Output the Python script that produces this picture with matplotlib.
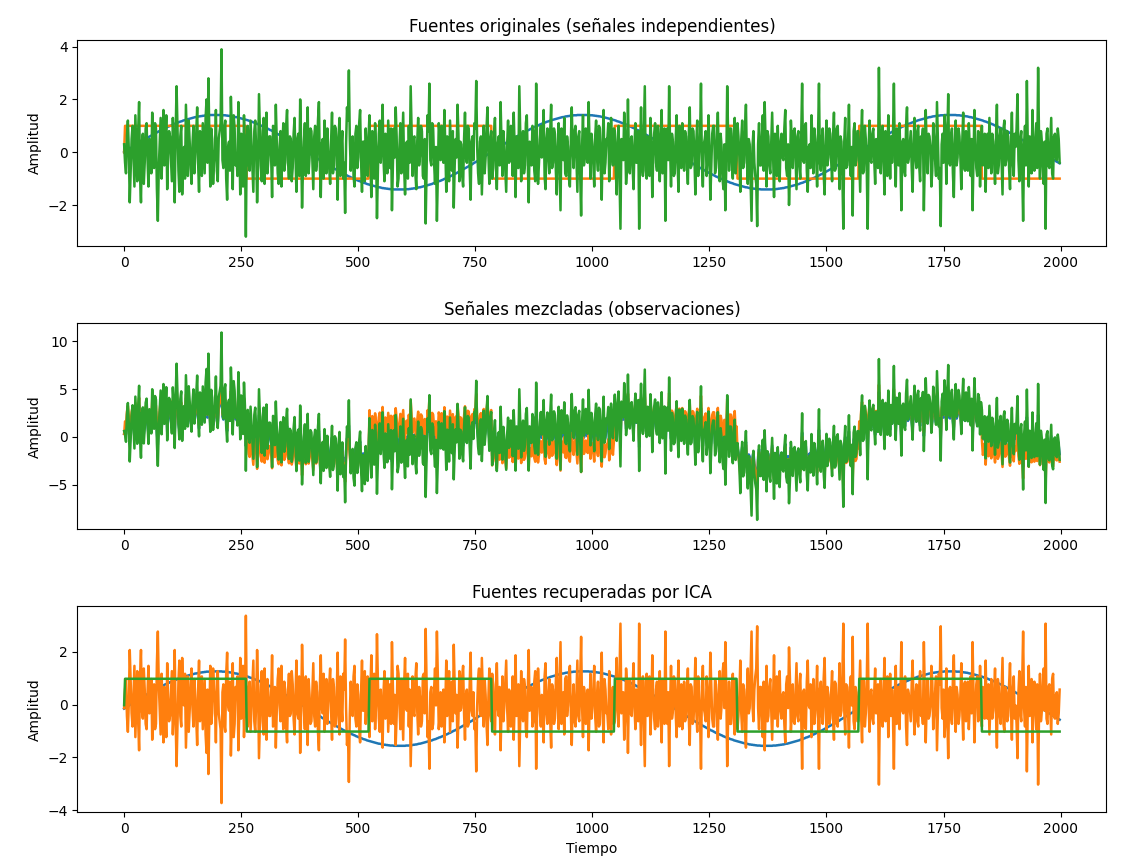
import matplotlib.pyplot as plt
import numpy as np

# una de cada 2 muestras (0 .. 1998)
tiempo = np.arange(0, 2000, 2)

# fuente 1: senoidal normalizada
seno = [
    # semiciclo positivo
    0.00, 0.02, 0.05, 0.07, 0.09, 0.11, 0.14, 0.16, 0.18, 0.20, 0.23, 0.25, 0.27, 0.29, 0.31, 0.34, 0.36, 0.38, 0.40, 0.42,
    0.45, 0.47, 0.49, 0.51, 0.53, 0.55, 0.57, 0.59, 0.61, 0.63, 0.65, 0.67, 0.69, 0.71, 0.73, 0.75, 0.77, 0.79, 0.81, 0.83,
    0.84, 0.86, 0.88, 0.90, 0.92, 0.93, 0.95, 0.97, 0.98, 1.00, 1.01, 1.03, 1.05, 1.06, 1.08, 1.09, 1.10, 1.12, 1.13, 1.15,
    1.16, 1.17, 1.18, 1.20, 1.21, 1.22, 1.23, 1.24, 1.25, 1.26, 1.27, 1.28, 1.29, 1.30, 1.31, 1.32, 1.33, 1.33, 1.34, 1.35,
    1.36, 1.36, 1.37, 1.37, 1.38, 1.38, 1.39, 1.39, 1.40, 1.40, 1.40, 1.40, 1.41, 1.41, 1.41, 1.41, 1.41, 1.41, 1.41,
    1.41, 1.41, 1.41, 1.41, 1.41, 1.41, 1.40, 1.40, 1.40, 1.40, 1.39, 1.39, 1.38, 1.38, 1.37, 1.37, 1.36, 1.36,
    1.35, 1.34, 1.33, 1.33, 1.32, 1.31, 1.30, 1.29, 1.28, 1.27, 1.26, 1.25, 1.24, 1.23, 1.22, 1.21, 1.20, 1.18, 1.17, 1.16,
    1.15, 1.13, 1.12, 1.10, 1.09, 1.08, 1.06, 1.05, 1.03, 1.01, 1.00, 0.98, 0.97, 0.95, 0.93, 0.92, 0.90, 0.88, 0.86, 0.84,
    0.83, 0.81, 0.79, 0.77, 0.75, 0.73, 0.71, 0.69, 0.67, 0.65, 0.63, 0.61, 0.59, 0.57, 0.55, 0.53, 0.51, 0.49, 0.47, 0.45,
    0.42, 0.40, 0.38, 0.36, 0.34, 0.31, 0.29, 0.27, 0.25, 0.23, 0.20, 0.18, 0.16, 0.14, 0.11, 0.09, 0.07, 0.05, 0.02, 0.00,
    # semiciclo negativo
    -0.02, -0.05, -0.07, -0.09, -0.11, -0.14, -0.16, -0.18, -0.20, -0.23, -0.25, -0.27, -0.29, -0.31, -0.34, -0.36, -0.38, -0.40, -0.42,
    -0.45, -0.47, -0.49, -0.51, -0.53, -0.55, -0.57, -0.59, -0.61, -0.63, -0.65, -0.67, -0.69, -0.71, -0.73, -0.75, -0.77, -0.79, -0.81, -0.83,
    -0.84, -0.86, -0.88, -0.90, -0.92, -0.93, -0.95, -0.97, -0.98, -1.00, -1.01, -1.03, -1.05, -1.06, -1.08, -1.09, -1.10, -1.12, -1.13, -1.15,
    -1.16, -1.17, -1.18, -1.20, -1.21, -1.22, -1.23, -1.24, -1.25, -1.26, -1.27, -1.28, -1.29, -1.30, -1.31, -1.32, -1.33, -1.33, -1.34, -1.35,
    -1.36, -1.36, -1.37, -1.37, -1.38, -1.38, -1.39, -1.39, -1.40, -1.40, -1.40, -1.40, -1.41, -1.41, -1.41, -1.41, -1.41, -1.41, -1.41,
    -1.41, -1.41, -1.41, -1.41, -1.41, -1.41, -1.40, -1.40, -1.40, -1.40, -1.39, -1.39, -1.38, -1.38, -1.37, -1.37, -1.36, -1.36,
    -1.35, -1.34, -1.33, -1.33, -1.32, -1.31, -1.30, -1.29, -1.28, -1.27, -1.26, -1.25, -1.24, -1.23, -1.22, -1.21, -1.20, -1.18, -1.17, -1.16,
    -1.15, -1.13, -1.12, -1.10, -1.09, -1.08, -1.06, -1.05, -1.03, -1.01, -1.00, -0.98, -0.97, -0.95, -0.93, -0.92, -0.90, -0.88, -0.86, -0.84,
    -0.83, -0.81, -0.79, -0.77, -0.75, -0.73, -0.71, -0.69, -0.67, -0.65, -0.63, -0.61, -0.59, -0.57, -0.55, -0.53, -0.51, -0.49, -0.47, -0.45,
    -0.42, -0.40, -0.38, -0.36, -0.34, -0.31, -0.29, -0.27, -0.25, -0.23, -0.20, -0.18, -0.16, -0.14, -0.11, -0.09, -0.07, -0.05, -0.02, 0.00,
    # semiciclo positivo
    0.02, 0.05, 0.07, 0.09, 0.11, 0.14, 0.16, 0.18, 0.20, 0.23, 0.25, 0.27, 0.29, 0.31, 0.34, 0.36, 0.38, 0.40, 0.42,
    0.45, 0.47, 0.49, 0.51, 0.53, 0.55, 0.57, 0.59, 0.61, 0.63, 0.65, 0.67, 0.69, 0.71, 0.73, 0.75, 0.77, 0.79, 0.81, 0.83,
    0.84, 0.86, 0.88, 0.90, 0.92, 0.93, 0.95, 0.97, 0.98, 1.00, 1.01, 1.03, 1.05, 1.06, 1.08, 1.09, 1.10, 1.12, 1.13, 1.15,
    1.16, 1.17, 1.18, 1.20, 1.21, 1.22, 1.23, 1.24, 1.25, 1.26, 1.27, 1.28, 1.29, 1.30, 1.31, 1.32, 1.33, 1.33, 1.34, 1.35,
    1.36, 1.36, 1.37, 1.37, 1.38, 1.38, 1.39, 1.39, 1.40, 1.40, 1.40, 1.40, 1.41, 1.41, 1.41, 1.41, 1.41, 1.41, 1.41,
    1.41, 1.41, 1.41, 1.41, 1.41, 1.41, 1.40, 1.40, 1.40, 1.40, 1.39, 1.39, 1.38, 1.38, 1.37, 1.37, 1.36, 1.36,
    1.35, 1.34, 1.33, 1.33, 1.32, 1.31, 1.30, 1.29, 1.28, 1.27, 1.26, 1.25, 1.24, 1.23, 1.22, 1.21, 1.20, 1.18, 1.17, 1.16,
    1.15, 1.13, 1.12, 1.10, 1.09, 1.08, 1.06, 1.05, 1.03, 1.01, 1.00, 0.98, 0.97, 0.95, 0.93, 0.92, 0.90, 0.88, 0.86, 0.84,
    0.83, 0.81, 0.79, 0.77, 0.75, 0.73, 0.71, 0.69, 0.67, 0.65, 0.63, 0.61, 0.59, 0.57, 0.55, 0.53, 0.51, 0.49, 0.47, 0.45,
    0.42, 0.40, 0.38, 0.36, 0.34, 0.31, 0.29, 0.27, 0.25, 0.23, 0.20, 0.18, 0.16, 0.14, 0.11, 0.09, 0.07, 0.05, 0.02, 0.00,
    # semiciclo negativo
    -0.02, -0.05, -0.07, -0.09, -0.11, -0.14, -0.16, -0.18, -0.20, -0.23, -0.25, -0.27, -0.29, -0.31, -0.34, -0.36, -0.38, -0.40, -0.42,
    -0.45, -0.47, -0.49, -0.51, -0.53, -0.55, -0.57, -0.59, -0.61, -0.63, -0.65, -0.67, -0.69, -0.71, -0.73, -0.75, -0.77, -0.79, -0.81, -0.83,
    -0.84, -0.86, -0.88, -0.90, -0.92, -0.93, -0.95, -0.97, -0.98, -1.00, -1.01, -1.03, -1.05, -1.06, -1.08, -1.09, -1.10, -1.12, -1.13, -1.15,
    -1.16, -1.17, -1.18, -1.20, -1.21, -1.22, -1.23, -1.24, -1.25, -1.26, -1.27, -1.28, -1.29, -1.30, -1.31, -1.32, -1.33, -1.33, -1.34, -1.35,
    -1.36, -1.36, -1.37, -1.37, -1.38, -1.38, -1.39, -1.39, -1.40, -1.40, -1.40, -1.40, -1.41, -1.41, -1.41, -1.41, -1.41, -1.41, -1.41,
    -1.41, -1.41, -1.41, -1.41, -1.41, -1.41, -1.40, -1.40, -1.40, -1.40, -1.39, -1.39, -1.38, -1.38, -1.37, -1.37, -1.36, -1.36,
    -1.35, -1.34, -1.33, -1.33, -1.32, -1.31, -1.30, -1.29, -1.28, -1.27, -1.26, -1.25, -1.24, -1.23, -1.22, -1.21, -1.20, -1.18, -1.17, -1.16,
    -1.15, -1.13, -1.12, -1.10, -1.09, -1.08, -1.06, -1.05, -1.03, -1.01, -1.00, -0.98, -0.97, -0.95, -0.93, -0.92, -0.90, -0.88, -0.86, -0.84,
    -0.83, -0.81, -0.79, -0.77, -0.75, -0.73, -0.71, -0.69, -0.67, -0.65, -0.63, -0.61, -0.59, -0.57, -0.55, -0.53, -0.51, -0.49, -0.47, -0.45,
    -0.42, -0.40, -0.38, -0.36, -0.34, -0.31, -0.29, -0.27, -0.25, -0.23, -0.20, -0.18, -0.16, -0.14, -0.11, -0.09, -0.07, -0.05, -0.02, 0.00,
    # semiciclo positivo
    0.02, 0.05, 0.07, 0.09, 0.11, 0.14, 0.16, 0.18, 0.20, 0.23, 0.25, 0.27, 0.29, 0.31, 0.34, 0.36, 0.38, 0.40, 0.42,
    0.45, 0.47, 0.49, 0.51, 0.53, 0.55, 0.57, 0.59, 0.61, 0.63, 0.65, 0.67, 0.69, 0.71, 0.73, 0.75, 0.77, 0.79, 0.81, 0.83,
    0.84, 0.86, 0.88, 0.90, 0.92, 0.93, 0.95, 0.97, 0.98, 1.00, 1.01, 1.03, 1.05, 1.06, 1.08, 1.09, 1.10, 1.12, 1.13, 1.15,
    1.16, 1.17, 1.18, 1.20, 1.21, 1.22, 1.23, 1.24, 1.25, 1.26, 1.27, 1.28, 1.29, 1.30, 1.31, 1.32, 1.33, 1.33, 1.34, 1.35,
    1.36, 1.36, 1.37, 1.37, 1.38, 1.38, 1.39, 1.39, 1.40, 1.40, 1.40, 1.40, 1.41, 1.41, 1.41, 1.41, 1.41, 1.41, 1.41,
    1.41, 1.41, 1.41, 1.41, 1.41, 1.41, 1.40, 1.40, 1.40, 1.40, 1.39, 1.39, 1.38, 1.38, 1.37, 1.37, 1.36, 1.36,
    1.35, 1.34, 1.33, 1.33, 1.32, 1.31, 1.30, 1.29, 1.28, 1.27, 1.26, 1.25, 1.24, 1.23, 1.22, 1.21, 1.20, 1.18, 1.17, 1.16,
    1.15, 1.13, 1.12, 1.10, 1.09, 1.08, 1.06, 1.05, 1.03, 1.01, 1.00, 0.98, 0.97, 0.95, 0.93, 0.92, 0.90, 0.88, 0.86, 0.84,
    0.83, 0.81, 0.79, 0.77, 0.75, 0.73, 0.71, 0.69, 0.67, 0.65, 0.63, 0.61, 0.59, 0.57, 0.55, 0.53, 0.51, 0.49, 0.47, 0.45,
    0.42, 0.40, 0.38, 0.36, 0.34, 0.31, 0.29, 0.27, 0.25, 0.23, 0.20, 0.18, 0.16, 0.14, 0.11, 0.09, 0.07, 0.05, 0.02, 0.00,
    # inicio del siguiente semiciclo
    -0.02, -0.05, -0.07, -0.09, -0.11, -0.14, -0.16, -0.18, -0.20, -0.23, -0.25, -0.27, -0.29, -0.31, -0.34, -0.36, -0.38, -0.40, -0.42,
]

# fuente 2: onda cuadrada (nivel y número de muestras de cada tramo)
cuadrada_niveles = [0, 1, -1, 1, -1, 1, -1, 1, -1]
cuadrada_muestras = [1, 130, 131, 131, 131, 131, 130, 131, 84]

# fuente 3: ruido
ruido = [
    0.3, -0.4, -0.8, 0.6, 1.2, 0.1, -1.9, -0.7, 0.5, 1.0, -0.2, -1.3, 1.4, 0.2, -1.1, 0.8, 1.9, -0.9, -1.9, 0.4,
    0.7, -1.2, -0.4, 0.9, 1.1, -0.3, -1.3, 0.5, 0.2, -0.8, 1.5, 0.3, -0.6, 1.1, 0.9, -1.4, -2.6, -0.6, 0.4, 1.3,
    -1.0, 0.2, 1.6, -0.5, 0.1, 1.4, -1.4, -0.1, 0.8, 0.6, -0.3, -1.1, 1.3, 0.4, -1.9, 0.7, 2.5, 0.9, -0.7, -1.5,
    0.6, 1.0, -1.6, -0.2, 0.2, -1.0, 1.8, 0.5, -0.9, 1.2, 0.4, -0.6, -1.2, 0.3, 1.0, -0.8, -0.1, 0.7, 1.7, -0.4,
    -1.5, 0.8, 0.3, -0.9, 1.1, 0.2, -0.8, 1.3, 2.0, -0.4, 2.8, 0.6, -1.3, 0.9, 0.5, -1.2, -0.4, 0.1, 1.6, -0.7,
    -1.1, 0.5, 0.8, 1.1, 3.9, -0.3, -0.6, 0.9, 1.2, -1.0, -1.8, 0.2, 0.4, -0.7, 2.1, 0.8, -1.4, 1.4, 0.9, -0.5,
    -0.2, -0.9, 1.9, 0.4, -1.6, 0.7, 0.6, -1.3, 1.4, 0.2, -3.2, 0.5, 1.0, -0.4, -0.7, 1.2, 0.3, -0.6, -1.5, 0.8,
    1.2, 0.1, -1.9, -0.6, 2.2, 0.9, -0.5, -1.1, 0.8, 1.3, -1.2, 0.3, 1.5, -0.8, -0.3, 0.6, 0.6, -0.2, -1.7, 1.0,
    0.9, -0.5, 1.8, 0.4, -0.8, -1.2, 0.2, 0.8, -1.3, 0.3, 1.1, -0.7, -0.4, 1.0, 1.6, -0.3, -1.0, 0.6, 0.5, -1.1,
    -0.6, 0.7, 1.3, -0.2, -1.5, 0.5, 0.7, -0.9, 2.0, 0.4, -2.1, -0.6, 0.4, 1.1, -0.9, 0.2, 1.7, -0.8, -0.2, 0.9,
    0.8, -0.3, -1.4, 0.6, 1.0, -0.7, -0.3, 1.2, 1.9, -0.5, -1.7, 0.3, 0.5, -1.0, 1.2, 0.4, -0.8, 0.9, 0.1, -0.6,
    -1.2, 0.4, 1.5, -0.8, -0.5, 1.0, 0.9, -0.2, -1.8, 0.6, 1.3, -0.9, 0.2, 0.8, -1.0, -0.4, -2.3, 0.3, 1.7, 1.2,
    3.1, 0.5, -0.7, 0.2, 0.6, -0.9, -1.3, 0.7, 1.0, -0.6, -0.2, 1.1, 1.6, -0.3, -1.5, 0.4, 0.4, -1.1, 0.9, -0.2,
    -0.9, 0.6, 1.4, -0.4, -1.7, 0.8, 0.3, -1.0, 1.1, 0.2, -2.5, -0.7, 0.7, 1.2, -0.4, 0.5, 1.8, -0.3, -1.1, 0.7,
    0.5, -0.8, 1.2, 0.3, -0.6, 0.9, -2.2, -0.5, 0.9, -0.2, 1.7, 0.6, -1.3, -1.0, 0.2, 1.1, -0.8, 0.4, 1.5, -0.6,
    -1.6, 0.3, 0.4, -1.0, 1.0, -0.4, 2.5, 0.7, -0.9, 0.5, 0.6, -0.8, -1.4, 0.4, 1.3, -0.5, -0.1, 1.0, 0.8, -0.9,
    -1.0, 0.5, -2.7, -0.6, 1.4, 0.8, 2.6, -0.3, -0.5, 1.1, 0.9, -0.4, -1.2, 0.2, -2.6, -0.9, 1.1, 0.6, -0.3, 1.0,
    0.7, -0.4, 1.6, 0.2, -1.5, 0.6, 0.2, -1.1, 1.2, 0.3, -0.7, 0.8, -2.1, -0.5, 0.5, -0.2, 1.8, 0.7, -1.1, 0.4,
    0.3, -0.9, -1.3, 0.5, 1.5, -0.2, -0.4, 1.0, 0.9, -0.6, -1.8, 0.4, 0.6, -0.3, 1.1, 0.9, 2.7, 0.2, -0.8, -1.2,
    0.4, 0.6, -1.6, -0.3, 1.0, -0.8, -0.2, 0.9, 1.7, -0.1, -1.2, 0.5, 0.8, -1.0, -0.6, 0.7, 1.3, -0.5, -1.4, 0.3,
    0.6, -0.5, 1.9, 0.4, -0.9, 0.8, 0.2, -0.7, -1.5, 0.3, 1.2, -0.4, -0.3, 1.0, 0.7, -0.9, 1.5, 0.2, -1.7, 0.6,
    0.1, -0.6, 2.5, 0.7, -1.1, 0.2, 0.8, -0.8, -0.5, 1.1, 1.4, -0.3, -1.9, 0.4, 0.3, -0.5, 1.0, 0.8, -0.7, -1.1,
    2.6, 0.3, -1.2, -0.4, 0.5, 1.0, -0.2, 0.6, 1.6, -0.9, -1.4, 0.5, 0.9, -0.2, -0.8, 0.8, 1.8, -0.6, -0.4, 0.9,
    0.7, -0.7, -1.6, 0.2, 1.1, -0.5, -2.2, 0.9, 0.4, -0.3, 1.3, -0.8, -0.9, 0.6, 0.2, -1.0, -1.3, 0.4, 1.7, 0.1,
    -0.6, 0.8, 1.0, -0.3, -1.5, 0.6, 0.8, -0.9, -2.4, 0.2, 1.4, -0.5, -0.2, 0.9, 0.6, -0.4, 1.9, 0.3, -1.0, 0.7,
    0.3, -0.4, -1.3, 0.6, 1.2, -0.2, -0.7, 1.0, 0.9, -0.6, -1.8, 0.3, 1.6, -0.8, -0.4, 0.5, 0.5, 1.1, -1.1, -0.3,
    1.3, 0.2, -0.5, 0.9, 0.8, -0.7, -1.6, 0.4, 1.0, -1.0, -2.9, 0.5, 0.4, -0.3, 1.5, 0.7, -1.2, -0.6, 2.0, -0.2,
    -0.8, 0.5, 0.6, -0.6, -1.4, 0.3, 1.1, -0.4, -0.3, 0.8, -2.9, 0.2, 1.7, -0.5, -0.9, 0.9, 2.5, -0.7, -1.0, 0.6,
    0.2, -0.9, 1.3, 0.4, -1.7, -0.2, 0.7, 1.1, -0.4, -0.7, 1.0, 0.3, -1.1, 0.6, 1.6, -0.8, -0.6, 0.9, -2.6, 0.4,
    0.9, -0.3, 2.5, 0.2, -1.3, 0.7, 0.4, -0.9, -0.8, 0.5, 1.4, -0.4, -1.5, 1.0, 0.3, -0.6, 1.1, 0.3, -0.7, 0.8,
    0.6, -0.4, -1.2, 0.7, 1.7, -0.6, -0.5, 0.9, 0.8, -0.2, -1.6, 0.4, 1.2, -0.9, -0.1, 0.6, 2.6, -0.5, -1.3, 0.3,
    0.5, 0.8, -0.9, -0.3, 1.4, 0.2, -1.8, -0.6, 0.7, 1.0, 1.0, -0.8, -0.6, 0.5, 1.5, -0.2, -1.1, 0.7, 0.2, -1.0,
    -1.4, 0.3, -2.2, -0.5, 2.5, 0.6, -0.7, 0.9, 0.9, -0.4, -1.0, 0.7, 1.3, -0.8, -0.3, 1.1, 0.6, -0.2, -1.5, 0.5,
    1.2, -0.6, -0.4, 0.9, 1.8, -0.3, -1.2, 0.5, 0.3, -1.1, -2.6, 0.2, 0.8, -0.4, -0.9, -1.2, -2.8, 0.3, 1.1, -0.5,
    -0.5, 0.6, 1.4, -0.7, 1.9, 0.4, -1.3, 0.8, 0.6, -0.5, -0.8, 0.3, 1.5, -0.2, -1.7, 0.7, 0.4, -0.9, 1.0, -0.4,
    -1.1, 0.4, 0.7, -0.2, -0.3, 0.9, 1.6, -0.6, -0.9, 0.3, -2.0, -0.8, 1.2, 0.5, -0.6, 0.8, 0.9, -0.3, -1.4, 0.6,
    0.8, -0.5, -1.0, 0.6, 2.6, -0.3, -0.4, 1.0, 1.1, -0.7, -1.5, 0.2, 0.3, -0.6, 1.4, 0.4, -0.8, 0.9, 0.5, -0.2,
    -1.3, 0.7, 2.6, -0.4, -0.7, 0.5, 0.9, -0.8, -1.6, 0.2, 1.2, -0.5, -0.2, 0.9, 0.7, -0.3, -1.1, 0.6, 1.5, -0.7,
    -0.6, 0.9, 1.0, -0.2, -1.4, 0.6, 0.4, -0.9, -2.9, 0.4, 1.3, -0.6, -0.5, 0.3, 1.8, -0.5, -0.9, 0.2, -2.4, 0.8,
    1.1, -0.5, -0.3, 0.8, 0.8, -0.4, -1.5, 0.6, 1.6, -0.8, -0.7, 1.0, 0.5, -0.6, -2.9, 0.2, 1.2, -0.3, -0.4, 0.7,
    0.9, -0.3, -1.2, 0.5, 0.3, -0.6, 3.2, 0.4, -0.8, 0.7, 1.0, -0.4, -1.6, 0.8, 0.6, -0.9, 1.4, 0.3, -1.0, 0.6,
    -0.4, 0.6, 2.6, -0.2, -1.3, 0.9, 0.7, -0.5, 1.1, -0.3, -2.2, 0.4, 0.5, -0.7, -0.9, 1.0, 1.7, -0.4, -0.2, 0.3,
    0.8, -0.6, -1.5, 0.3, 1.3, -0.2, -0.6, 0.8, 1.0, -0.5, -1.1, 0.6, 0.4, 0.9, -2.2, -0.3, 1.6, 0.2, -0.8, 0.7,
    0.6, 0.2, -1.3, -0.7, 1.1, 0.5, -0.3, -0.9, 1.9, 0.4, -1.0, -0.6, -2.8, 0.3, 0.7, -0.4, 1.4, 0.8, -1.2, 0.5,
    2.2, -0.4, -0.5, 0.6, 0.9, -0.8, -1.7, 0.3, 1.2, -0.5, -0.2, 0.9, 0.6, -0.2, -1.4, 0.4, 1.5, -0.6, -0.7, 0.8,
    0.3, -0.7, 1.1, 0.2, -0.9, 0.5, -2.2, -0.4, 1.6, 0.3, -0.6, -0.9, 0.8, 0.6, -1.3, 0.4, 1.0, -0.5, -0.1, 0.7,
    -1.5, 0.4, 0.7, -0.6, 1.3, 0.2, -0.8, 0.7, 0.4, -0.3, -1.2, 0.5, 1.8, -0.8, -0.5, 0.6, 0.9, -0.4, -1.6, 0.9,
    1.2, -0.5, -0.3, 0.8, 0.6, -0.6, -1.4, 0.3, 1.5, -0.4, -0.9, 0.7, 0.2, 0.9, 2.2, -0.3, -1.1, 0.5, 0.8, -0.7,
    -2.6, 0.3, 1.0, -0.5, 2.7, 0.2, -1.3, 0.6, 0.5, -0.8, 1.6, -0.2, -0.7, 0.4, 1.1, -0.6, 3.2, 0.5, -1.0, 0.8,
    0.4, -0.6, -1.2, 0.4, -2.9, 0.7, 0.9, -0.5, -0.6, 0.3, 1.3, -0.8, -1.0, 0.6, 0.7, -0.2, -0.3, 0.9, 0.5, -0.4,
]

# matriz de mezcla
A = [[1.0, 1.0, 1.0],
     [0.5, 2.0, 1.0],
     [1.5, 1.0, 2.0]]

# componentes que devuelve ICA: orden, signo y desplazamiento
W_ica = [[1, 0, 0],
         [0, 0, -1],
         [0, 1, 0]]
desplaz_ica = [-0.15, 0.17, -0.02]

S = np.c_[seno, np.repeat(cuadrada_niveles, cuadrada_muestras), ruido]
X = S @ np.array(A).T
S_ica = S @ np.array(W_ica).T + np.array(desplaz_ica)

titulos = ["Fuentes originales (señales independientes)",
           "Señales mezcladas (observaciones)",
           "Fuentes recuperadas por ICA"]

fig, axes = plt.subplots(3, 1, figsize=(11.21, 8.68))
fig.subplots_adjust(left=0.069, right=0.987, top=0.954, bottom=0.064, hspace=0.374)

for ax, datos, titulo in zip(axes, [S, X, S_ica], titulos):
    ax.plot(tiempo, datos, lw=1.8)
    ax.set_title(titulo)
    ax.set_ylabel("Amplitud")

axes[2].set_xlabel("Tiempo")

fig.savefig("out.png", dpi=100)
